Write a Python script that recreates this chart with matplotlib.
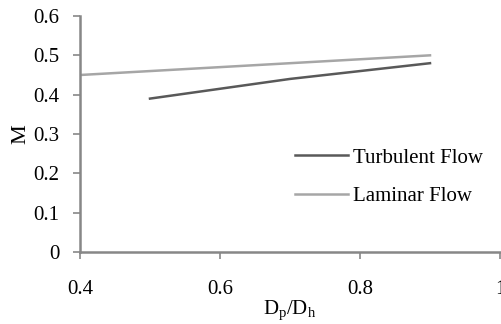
import matplotlib.pyplot as plt

# values
x_turb = [0.5, 0.6, 0.7, 0.8, 0.9]
m_turb = [0.39, 0.415, 0.44, 0.46, 0.48]
x_lam = [0.4, 0.5, 0.6, 0.7, 0.8, 0.9]
m_lam = [0.45, 0.46, 0.47, 0.48, 0.49, 0.50]

plt.rcParams['font.family'] = ['Liberation Serif', 'DejaVu Serif']

fig = plt.figure(figsize=(5.02, 3.24), dpi=100)
ax = fig.add_axes([80 / 502, 1 - 252 / 324, 420 / 502, 236 / 324])

ax.plot(x_turb, m_turb, color='#595959', lw=1.8, label='Turbulent Flow')
ax.plot(x_lam, m_lam, color='#a6a6a6', lw=1.8, label='Laminar Flow')

ax.set_xlim(0.4, 1.0)
ax.set_ylim(0, 0.6)
ax.set_xticks([0.4, 0.6, 0.8, 1.0])
ax.set_xticklabels(['0.4', '0.6', '0.8', '1'])
ax.set_yticks([0, 0.1, 0.2, 0.3, 0.4, 0.5, 0.6])
ax.set_yticklabels(['0', '0.1', '0.2', '0.3', '0.4', '0.5', '0.6'])

for s in ['top', 'right']:
    ax.spines[s].set_visible(False)
for s in ['left', 'bottom']:
    ax.spines[s].set_color('#878787')
    ax.spines[s].set_linewidth(1.8)
ax.tick_params(colors='#878787', width=1.2, length=5, labelcolor='black', labelsize=15)
ax.tick_params(axis='x', pad=15)
ax.tick_params(axis='y', pad=10)

ax.set_xlabel('D$_\\mathregular{p}$/D$_\\mathregular{h}$', fontsize=15, labelpad=0)
ax.set_ylabel('M', fontsize=16, labelpad=2)

ax.legend(loc='upper left', bbox_to_anchor=(295 / 502, 1 - 148 / 324),
          bbox_transform=fig.transFigure, frameon=False, fontsize=15,
          borderpad=0, borderaxespad=0,
          handlelength=2.55, handletextpad=0.25, labelspacing=0.9)

fig.savefig('out.png', dpi=100)
